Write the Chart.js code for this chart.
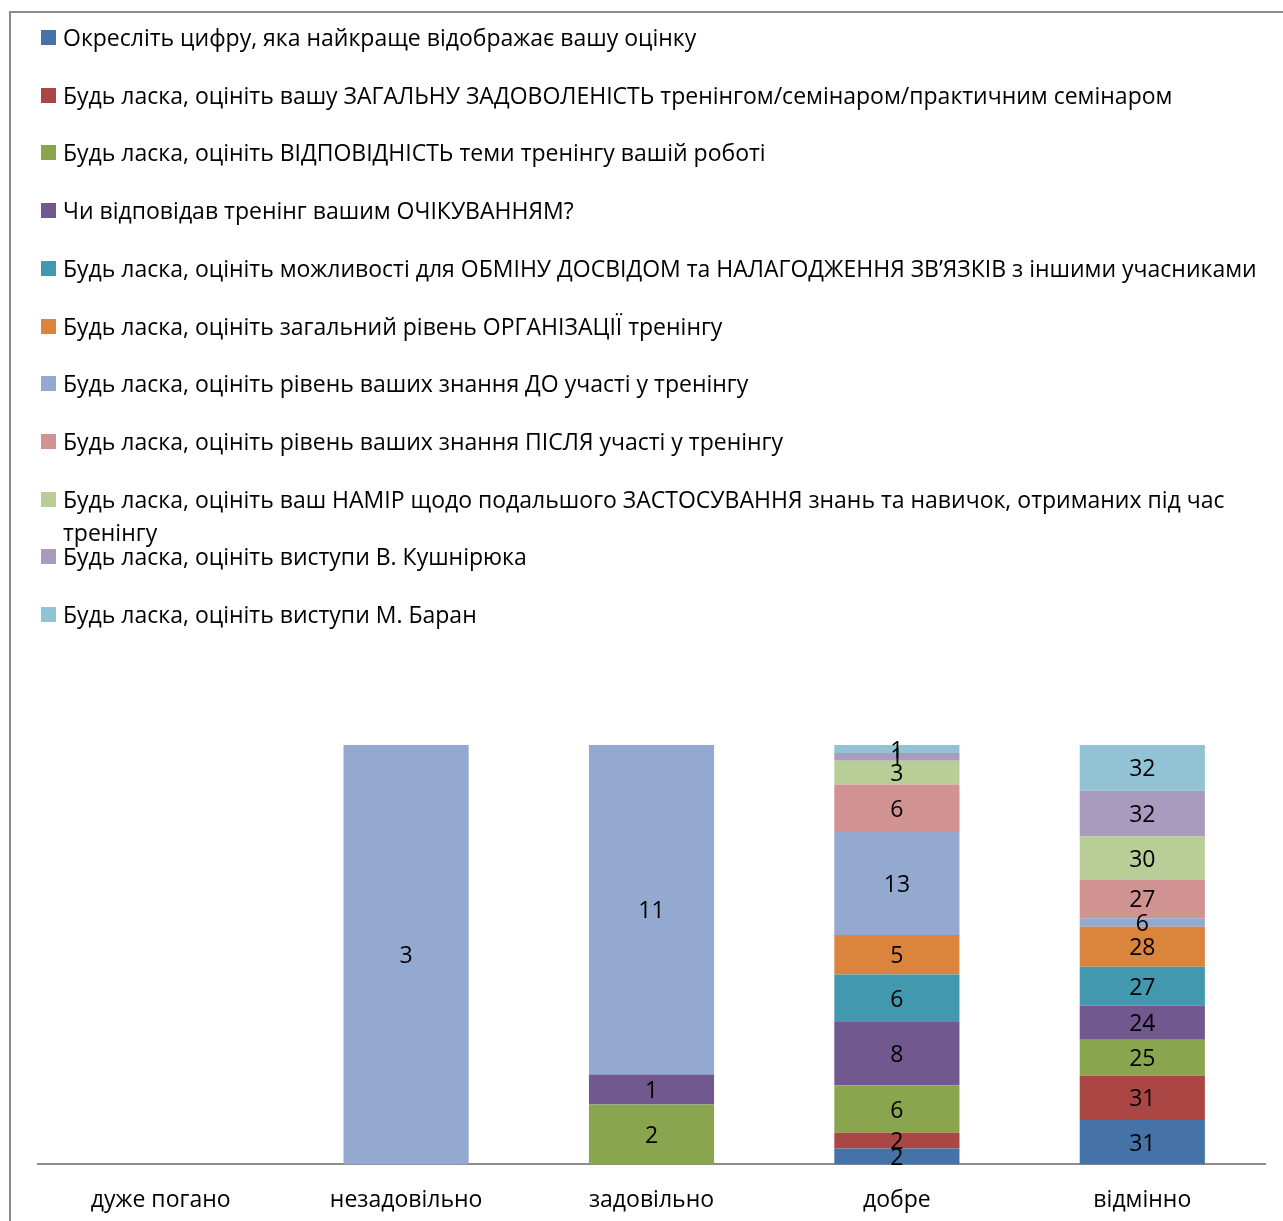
<!DOCTYPE html>
<html lang="uk">
<head>
<meta charset="utf-8">
<title>Оцінка тренінгу</title>
<script src="https://cdn.jsdelivr.net/npm/chart.js@4.4.1/dist/chart.umd.min.js"></script>
<style>
  html, body { margin: 0; padding: 0; background: #fff; }
  #wrap { position: relative; width: 1283px; height: 1221px; overflow: hidden; font-family: "Open Sans", sans-serif; }
  #frame { position: absolute; left: 9px; top: 11px; width: 1400px; height: 1400px; border-left: 2px solid #8c8c8c; border-top: 2px solid #8c8c8c; }
  #chart { position: absolute; left: 0; top: 0; }
  #legend { position: absolute; left: 41px; top: 0; width: 1237px; }
  .item { position: absolute; left: 0; right: 0; display: flex; align-items: flex-start; font-size: 23px; line-height: 33px; color: #000; }
  .box { flex: none; width: 15px; height: 15px; margin: 9px 7px 0 0; }
</style>
</head>
<body>
<div id="wrap">
  <div id="frame"></div>
  <canvas id="chart" width="1283" height="1228"></canvas>
  <div id="legend"></div>
</div>
<script>
const categories = ["дуже погано", "незадовільно", "задовільно", "добре", "відмінно"];

const seriesNames = [
  "Окресліть цифру, яка найкраще відображає вашу оцінку",
  "Будь ласка, оцініть вашу ЗАГАЛЬНУ ЗАДОВОЛЕНІСТЬ тренінгом/семінаром/практичним семінаром",
  "Будь ласка, оцініть ВІДПОВІДНІСТЬ теми тренінгу вашій роботі",
  "Чи відповідав тренінг вашим ОЧІКУВАННЯМ?",
  "Будь ласка, оцініть можливості для ОБМІНУ ДОСВІДОМ та НАЛАГОДЖЕННЯ ЗВ’ЯЗКІВ з іншими учасниками",
  "Будь ласка, оцініть загальний рівень ОРГАНІЗАЦІЇ тренінгу",
  "Будь ласка, оцініть рівень ваших знання ДО участі у тренінгу",
  "Будь ласка, оцініть рівень ваших знання ПІСЛЯ участі у тренінгу",
  "Будь ласка, оцініть ваш НАМІР щодо подальшого ЗАСТОСУВАННЯ знань та навичок, отриманих під час тренінгу",
  "Будь ласка, оцініть виступи В. Кушнірюка",
  "Будь ласка, оцініть виступи М. Баран",
];

// answer counts per rating category
const overallDigit    = [0, 0, 0, 2, 31];
const satisfaction    = [0, 0, 0, 2, 31];
const relevance       = [0, 0, 2, 6, 25];
const expectations    = [0, 0, 1, 8, 24];
const networking      = [0, 0, 0, 6, 27];
const organisation    = [0, 0, 0, 5, 28];
const knowledgeBefore = [0, 3, 11, 13, 6];
const knowledgeAfter  = [0, 0, 0, 6, 27];
const intention       = [0, 0, 0, 3, 30];
const speakerK        = [0, 0, 0, 1, 32];
const speakerB        = [0, 0, 0, 1, 32];

const seriesValues = [overallDigit, satisfaction, relevance, expectations, networking,
  organisation, knowledgeBefore, knowledgeAfter, intention, speakerK, speakerB];

const colors = ["#4572A7", "#AA4643", "#89A54E", "#71588F", "#4198AF", "#DB843D",
  "#93A9CF", "#D19392", "#B9CD96", "#A99BBD", "#92C3D4"];

// column totals, so every bar is stacked to 100%
const totals = categories.map((c, j) => seriesValues.reduce((s, v) => s + v[j], 0));

const datasets = seriesNames.map((name, i) => ({
  label: name,
  raw: seriesValues[i],
  data: seriesValues[i].map((v, j) => (totals[j] ? (v / totals[j]) * 100 : 0)),
  backgroundColor: colors[i],
  borderWidth: 0,
  categoryPercentage: 1,
  barPercentage: 0.51,
}));

// raw counts written in the middle of each segment
const segmentLabels = {
  id: "segmentLabels",
  afterDatasetsDraw(chart) {
    const ctx = chart.ctx;
    ctx.save();
    ctx.font = '23px "Open Sans", sans-serif';
    ctx.fillStyle = "#000";
    ctx.textAlign = "center";
    ctx.textBaseline = "middle";
    chart.data.datasets.forEach((ds, i) => {
      chart.getDatasetMeta(i).data.forEach((bar, j) => {
        if (!ds.raw[j]) return;
        const mid = (bar.y + bar.base) / 2 + 2;
        ctx.fillText(ds.raw[j], bar.x, mid);
      });
    });
    ctx.restore();
  },
};

const chart = new Chart(document.getElementById("chart").getContext("2d"), {
  type: "bar",
  data: { labels: categories, datasets: datasets },
  options: {
    responsive: false,
    animation: false,
    layout: { padding: { top: 745, left: 38, right: 18, bottom: 0 } },
    plugins: { legend: { display: false }, tooltip: { enabled: false } },
    scales: {
      x: {
        stacked: true,
        grid: { display: false },
        border: { color: "#8c8c8c", width: 2 },
        ticks: { color: "#000", font: { family: "Open Sans", size: 23 }, padding: 14 },
      },
      y: { stacked: true, display: false, min: 0, max: 100 },
    },
  },
  plugins: [segmentLabels],
});

// one legend entry per row
const legend = document.getElementById("legend");
chart.data.datasets.forEach((ds, i) => {
  const item = document.createElement("div");
  item.className = "item";
  item.style.top = (21 + i * 57.7) + "px";
  item.innerHTML = `<span class="box" style="background:${ds.backgroundColor}"></span><span>${ds.label}</span>`;
  legend.appendChild(item);
});
</script>
</body>
</html>
